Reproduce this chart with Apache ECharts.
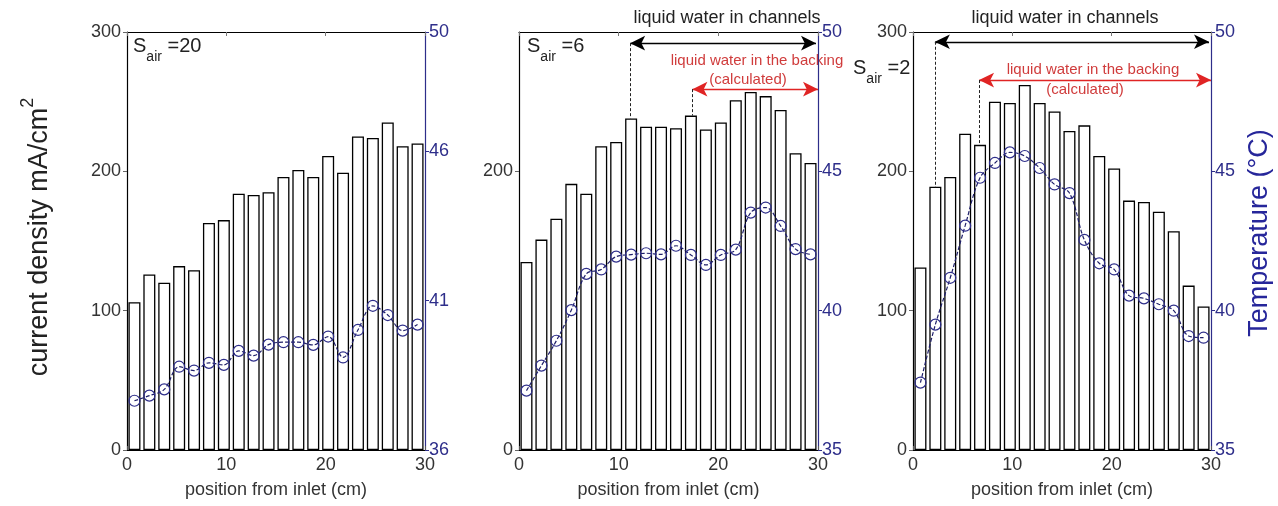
<!DOCTYPE html>
<html>
<head>
<meta charset="utf-8">
<script src="https://cdn.jsdelivr.net/npm/echarts@6/dist/echarts.min.js"></script>
<style>
html,body{margin:0;padding:0;background:#fff;}
#chart{width:1278px;height:506px;}
</style>
</head>
<body>
<div id="chart"></div>
<script>
// ---- data ----
const positions = [0.75, 2.25, 3.75, 5.25, 6.75, 8.25, 9.75, 11.25, 12.75, 14.25, 15.75, 17.25, 18.75, 20.25, 21.75, 23.25, 24.75, 26.25, 27.75, 29.25];

const current1 = [106, 126, 120, 132, 129, 163, 165, 184, 183, 185, 196, 201, 196, 211, 199, 225, 224, 235, 218, 220];
const temp1 = [37.65, 37.82, 38.03, 38.79, 38.66, 38.92, 38.85, 39.32, 39.16, 39.53, 39.61, 39.61, 39.52, 39.80, 39.10, 40.02, 40.83, 40.52, 40.0, 40.2];

const current2 = [135, 151, 166, 191, 184, 218, 221, 238, 232, 232, 231, 240, 230, 235, 251, 257, 254, 244, 213, 206];
const temp2 = [37.13, 38.03, 38.92, 40.02, 41.32, 41.48, 41.94, 42.01, 42.06, 42.02, 42.33, 42.0, 41.64, 42.0, 42.19, 43.52, 43.70, 43.04, 42.21, 42.02];

const current3 = [131, 189, 196, 227, 219, 250, 249, 262, 249, 243, 229, 233, 211, 202, 179, 178, 171, 157, 118, 103];
const temp3 = [37.42, 39.50, 41.18, 43.05, 44.77, 45.30, 45.68, 45.55, 45.12, 44.53, 44.22, 42.54, 41.70, 41.48, 40.54, 40.44, 40.23, 40.0, 39.09, 39.03];

const xTicks = [0, 10, 20, 30];
const leftTicks1 = [0, 100, 200, 300];
const leftTicks2 = [0, 200];
const leftTicks3 = [0, 100, 200, 300];
const rightTicks1 = [36, 41, 46, 50];
const rightTicks2 = [35, 40, 45, 50];
const rightTicks3 = [35, 40, 45, 50];
const rightRange1 = [36, 50];
const rightRange2 = [35, 50];
const rightRange3 = [35, 50];

const sairLabels = ['20', '6', '2'];

// annotation extents (x in cm, y in current density units)
const channels2 = {from: 11.15, to: 29.8, y: 292, barTop: 238};
const backing2 = {from: 17.4, to: 30, y: 259, barTop: 240};
const channels3 = {from: 2.2, to: 29.8, y: 293, barTop: 188.5};
const backing3 = {from: 6.65, to: 30, y: 265.5, barTop: 219};

// ---- layout ----
const gridPos = [{left: 127, width: 298}, {left: 519, width: 299}, {left: 913, width: 298}];
const TOP = 32, HEIGHT = 418;
const NAVY = '#2e2e8a';
const LINE_NAVY = '#1f1f6a';
const RED = '#e02424';
const RED_TEXT = '#d03c3c';
const FONT = '"Liberation Sans", Arial, sans-serif';

const panels = [
  {cur: current1, temp: temp1, lt: leftTicks1, rt: rightTicks1, rr: rightRange1},
  {cur: current2, temp: temp2, lt: leftTicks2, rt: rightTicks2, rr: rightRange2},
  {cur: current3, temp: temp3, lt: leftTicks3, rt: rightTicks3, rr: rightRange3}
];

const grid = [], xAxis = [], yAxis = [], series = [];

panels.forEach((p, k) => {
  grid.push({left: gridPos[k].left, width: gridPos[k].width, top: TOP, height: HEIGHT, containLabel: false});
  xAxis.push({
    type: 'value', gridIndex: k, min: 0, max: 30, interval: 10, position: 'bottom',
    axisLine: {show: true, onZero: false, lineStyle: {color: '#000', width: 1.2}},
    axisTick: {show: true, inside: true, length: 4, lineStyle: {color: '#555'}},
    axisLabel: {show: true, fontSize: 18, color: '#333', margin: 6, fontFamily: FONT, customValues: xTicks},
    splitLine: {show: false},
    name: 'position from inlet (cm)', nameLocation: 'middle', nameGap: 31,
    nameTextStyle: {fontSize: 18, color: '#333', fontFamily: FONT}
  });
  xAxis.push({
    type: 'value', gridIndex: k, min: 0, max: 30, interval: 10, position: 'top',
    axisLine: {show: true, onZero: false, lineStyle: {color: '#000', width: 1.2}},
    axisTick: {show: true, inside: true, length: 4, lineStyle: {color: '#777'}},
    axisLabel: {show: false}, splitLine: {show: false}
  });
  yAxis.push({
    type: 'value', gridIndex: k, min: 0, max: 300, position: 'left',
    axisLine: {show: true, onZero: false, lineStyle: {color: '#000', width: 1.2}},
    axisTick: {show: true, inside: false, length: 4, lineStyle: {color: '#666'}, customValues: p.lt},
    axisLabel: {show: true, fontSize: 18, color: '#333', margin: 6, fontFamily: FONT, customValues: p.lt},
    splitLine: {show: false}
  });
  yAxis.push({
    type: 'value', gridIndex: k, min: p.rr[0], max: p.rr[1], position: 'right',
    axisLine: {show: true, onZero: false, lineStyle: {color: NAVY, width: 1.2}},
    axisTick: {show: true, inside: false, length: 4, lineStyle: {color: NAVY}, customValues: p.rt},
    axisLabel: {show: true, fontSize: 18, color: NAVY, margin: 4, fontFamily: FONT, customValues: p.rt},
    splitLine: {show: false}
  });

  const barSeries = {
    type: 'bar', xAxisIndex: 2 * k, yAxisIndex: 2 * k,
    data: positions.map((x, i) => [x, p.cur[i]]),
    barWidth: 12,
    itemStyle: {color: '#fff', borderColor: '#000', borderWidth: 1.3},
    z: 2, silent: true
  };

  const ml = [];
  function addAnno(a, color) {
    ml.push([
      {coord: [a.from, a.y], symbol: 'arrow', lineStyle: {color: color, width: 1.3, type: 'solid'}, itemStyle: {color: color}},
      {coord: [a.to, a.y], symbol: 'arrow', itemStyle: {color: color}}
    ]);
    ml.push([
      {coord: [a.from, a.y], symbol: 'none', lineStyle: {color: '#222', width: 1, type: [3, 2]}},
      {coord: [a.from, a.barTop], symbol: 'none'}
    ]);
  }
  if (k === 1) { addAnno(channels2, '#000'); addAnno(backing2, RED); }
  if (k === 2) { addAnno(channels3, '#000'); addAnno(backing3, RED); }
  if (ml.length) {
    barSeries.markLine = {
      silent: true, animation: false,
      symbolSize: [11, 15],
      label: {show: false},
      data: ml
    };
  }
  series.push(barSeries);

  series.push({
    type: 'line', xAxisIndex: 2 * k, yAxisIndex: 2 * k + 1,
    data: positions.map((x, i) => [x, p.temp[i]]),
    smooth: 0.35,
    symbol: 'circle', symbolSize: 11,
    itemStyle: {color: 'rgba(255,255,255,0)', borderColor: NAVY, borderWidth: 1.2},
    lineStyle: {color: LINE_NAVY, width: 1.2, type: [4, 2]},
    z: 5, silent: true
  });
});

const sairPos = [[133, 36], [527, 36], [853, 58]];
const graphic = [];
sairPos.forEach((pos, k) => {
  graphic.push({
    type: 'text', left: pos[0], top: pos[1], silent: true,
    style: {
      text: '{s|S}{b|air}{s| =' + sairLabels[k] + '}',
      rich: {
        s: {fontSize: 20, fontFamily: FONT, fill: '#222', verticalAlign: 'top', lineHeight: 28},
        b: {fontSize: 14, fontFamily: FONT, fill: '#222', verticalAlign: 'bottom', lineHeight: 28, padding: [10, 0, 0, 0]}
      }
    }
  });
});

function centerText(txt, x, y, size, color) {
  graphic.push({
    type: 'text', x: x, y: y, silent: true,
    style: {text: txt, fontSize: size, fontFamily: FONT, fill: color, align: 'center', verticalAlign: 'middle'}
  });
}
centerText('liquid water in channels', 727, 18, 18, '#222');
centerText('liquid water in channels', 1065, 18, 18, '#222');
centerText('liquid water in the backing', 757, 61, 15, RED_TEXT);
centerText('(calculated)', 748, 80, 15, RED_TEXT);
centerText('liquid water in the backing', 1093, 70, 15, RED_TEXT);
centerText('(calculated)', 1085, 90, 15, RED_TEXT);

graphic.push({
  type: 'text', x: 36, y: 237, rotation: Math.PI / 2, silent: true,
  style: {
    text: '{t|current density mA/cm}{p|2}',
    align: 'center', verticalAlign: 'middle',
    rich: {
      t: {fontSize: 27, fontFamily: FONT, fill: '#222', verticalAlign: 'bottom', lineHeight: 34},
      p: {fontSize: 18, fontFamily: FONT, fill: '#222', verticalAlign: 'top', lineHeight: 34, padding: [0, 0, 10, 0]}
    }
  }
});
graphic.push({
  type: 'text', x: 1260, y: 233, rotation: Math.PI / 2, silent: true,
  style: {text: 'Temperature (°C)', fontSize: 27, fontFamily: FONT, fill: '#26269a', align: 'center', verticalAlign: 'middle'}
});

const chart = echarts.init(document.getElementById('chart'), null, {renderer: 'canvas'});
chart.setOption({
  backgroundColor: '#fff',
  animation: false,
  grid: grid, xAxis: xAxis, yAxis: yAxis, series: series,
  graphic: graphic
});
</script>
</body>
</html>
